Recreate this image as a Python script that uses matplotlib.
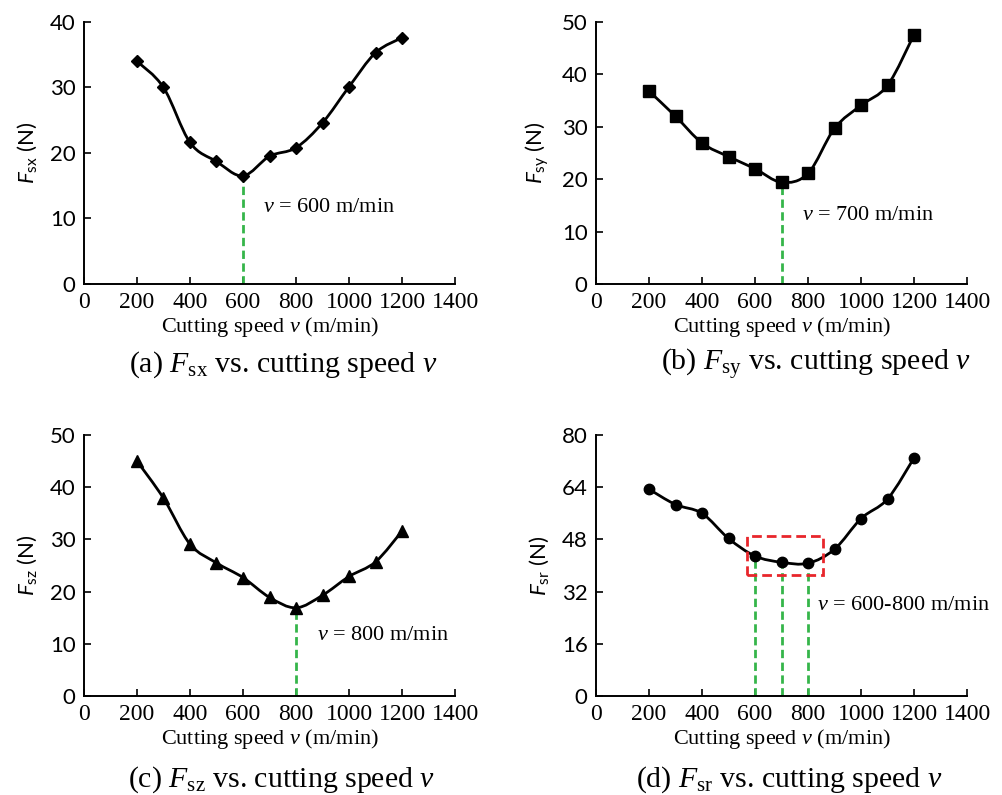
import matplotlib
matplotlib.use('Agg')
import matplotlib.pyplot as plt
import matplotlib.patches as mpatches
from matplotlib.path import Path
import numpy as np

# italic serif for v and F in captions, sans fonts (via sf/bf slots) for y labels
plt.rcParams['mathtext.fontset'] = 'custom'
plt.rcParams['mathtext.rm'] = 'Liberation Serif'
plt.rcParams['mathtext.it'] = 'Liberation Serif:italic'
plt.rcParams['mathtext.sf'] = 'Lato:italic'
plt.rcParams['mathtext.bf'] = 'Lato'

speed = [200, 300, 400, 500, 600, 700, 800, 900, 1000, 1100, 1200]
f_sx = [34.0, 30.0, 21.6, 18.7, 16.5, 19.5, 20.8, 24.6, 30.1, 35.3, 37.6]
f_sy = [36.8, 32.0, 26.9, 24.3, 22.0, 19.4, 21.1, 29.7, 34.1, 37.9, 47.6]
f_sz = [45.0, 37.9, 29.1, 25.5, 22.7, 18.9, 16.9, 19.3, 22.9, 25.7, 31.6]
f_sr = [63.4, 58.7, 56.0, 48.3, 42.9, 41.0, 40.7, 45.0, 54.4, 60.4, 73.0]

x_ticks = [0, 200, 400, 600, 800, 1000, 1200, 1400]
y_ticks_a = [0, 10, 20, 30, 40]
y_ticks_b = [0, 10, 20, 30, 40, 50]
y_ticks_c = [0, 10, 20, 30, 40, 50]
y_ticks_d = [0, 16, 32, 48, 64, 80]

opt_a = [600]
opt_b = [700]
opt_c = [800]
opt_d = [600, 700, 800]
box_d = (570, 37.2, 855, 49.2)  # x0, y0, x1, y1

serif = 'Liberation Serif'
sans = 'Lato'
green = '#35b54a'
red = '#e8262b'


def smooth_path(xs, ys):
    # Catmull-Rom through the data points, as cubic Bezier segments
    p = np.column_stack([xs, ys]).astype(float)
    p = np.vstack([p[0], p, p[-1]])
    verts = [tuple(p[1])]
    codes = [Path.MOVETO]
    for i in range(1, len(p) - 2):
        c1 = p[i] + (p[i + 1] - p[i - 1]) / 6
        c2 = p[i + 1] - (p[i + 2] - p[i]) / 6
        verts += [tuple(c1), tuple(c2), tuple(p[i + 1])]
        codes += [Path.CURVE4] * 3
    return Path(verts, codes)


def panel(rect, ys, yticks, marker, msize, ylab, opts, note, note_xy, caption, cap_xy):
    ax = fig.add_axes(rect)
    ax.add_patch(mpatches.PathPatch(smooth_path(speed, ys), fill=False,
                                    lw=2.0, color='black', zorder=3))
    ax.plot(speed, ys, ls='none', marker=marker, ms=msize, color='black', zorder=4)
    for v in opts:
        ax.plot([v, v], [0, ys[speed.index(v)]], ls='--', dashes=(3, 1.6),
                color=green, lw=2.0, zorder=2)
    ax.set_xlim(0, 1400)
    ax.set_ylim(0, yticks[-1])
    ax.set_xticks(x_ticks)
    ax.set_yticks(yticks)
    for s in ['top', 'right']:
        ax.spines[s].set_visible(False)
    for s in ['left', 'bottom']:
        ax.spines[s].set_linewidth(1.4)
    ax.tick_params(direction='in', length=5, width=1.2, pad=6)
    for t in ax.get_xticklabels():
        t.set_fontfamily(serif)
        t.set_fontsize(17)
    for t in ax.get_yticklabels():
        t.set_fontfamily(sans)
        t.set_fontsize(16)
    ax.set_xlabel('Cutting speed $v$ (m/min)', fontfamily=serif, fontsize=16, labelpad=1)
    ax.set_ylabel(ylab, fontfamily=sans, fontsize=16, labelpad=8)
    ax.text(note_xy[0], note_xy[1], note, fontfamily=serif, fontsize=16, va='center')
    fig.text(cap_xy[0], cap_xy[1], caption, fontfamily=serif, fontsize=21.5,
             ha='center', va='center')
    return ax


fig = plt.figure(figsize=(10.03, 7.95), dpi=100)

panel([0.0837, 0.6428, 0.370, 0.3296], f_sx, y_ticks_a, 'D', 6,
      r'$\mathsf{F}_{\mathbf{sx}}$ (N)', opt_a, '$v$ = 600 m/min', (675, 11.75),
      r'(a) $F_{\mathrm{sx}}$ vs. cutting speed $v$', (0.282, 0.541))
panel([0.5942, 0.6428, 0.370, 0.3296], f_sy, y_ticks_b, 's', 8.5,
      r'$\mathsf{F}_{\mathbf{sy}}$ (N)', opt_b, '$v$ = 700 m/min', (777, 13.0),
      r'(b) $F_{\mathrm{sy}}$ vs. cutting speed $v$', (0.814, 0.541))
panel([0.0837, 0.1245, 0.370, 0.3283], f_sz, y_ticks_c, '^', 8.5,
      r'$\mathsf{F}_{\mathbf{sz}}$ (N)', opt_c, '$v$ = 800 m/min', (879, 11.5),
      r'(c) $F_{\mathrm{sz}}$ vs. cutting speed $v$', (0.281, 0.019))
ax = panel([0.5942, 0.1245, 0.370, 0.3283], f_sr, y_ticks_d, 'o', 7.5,
           r'$\mathsf{F}_{\mathbf{sr}}$ (N)', opt_d, '$v$ = 600-800 m/min', (834, 27.6),
           r'(d) $F_{\mathrm{sr}}$ vs. cutting speed $v$', (0.787, 0.019))
x0, y0, x1, y1 = box_d
ax.add_patch(mpatches.Rectangle((x0, y0), x1 - x0, y1 - y0, fill=False,
                                ls=(0, (3.5, 1.8)), lw=2.0, ec=red, zorder=5))

fig.savefig('out.png', dpi=100)
